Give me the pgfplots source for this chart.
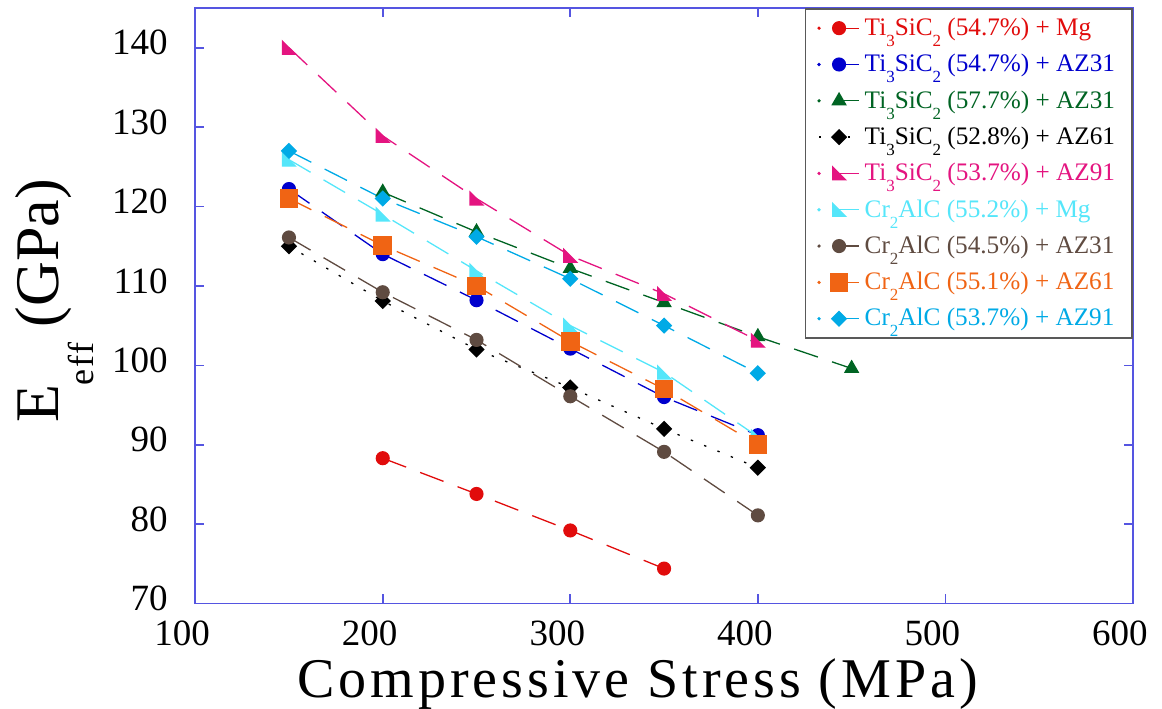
\documentclass[border=0pt]{standalone}
\usepackage{fontspec}
\setmainfont{Liberation Serif}
\usepackage{pgfplots}
\pgfplotsset{compat=1.18}

\definecolor{axisblue}{RGB}{85,85,225}
\definecolor{cRed}{RGB}{225,12,12}
\definecolor{cBlue}{RGB}{0,0,205}
\definecolor{cGreen}{RGB}{0,100,35}
\definecolor{cPink}{RGB}{228,20,128}
\definecolor{cCyan}{RGB}{85,230,250}
\definecolor{cBrown}{RGB}{95,75,65}
\definecolor{cOrange}{RGB}{240,100,20}
\definecolor{cLBlue}{RGB}{0,170,230}

\pgfdeclareplotmark{rtri*}{%
  \pgfpathmoveto{\pgfqpoint{-\pgfplotmarksize}{\pgfplotmarksize}}%
  \pgfpathlineto{\pgfqpoint{-\pgfplotmarksize}{-\pgfplotmarksize}}%
  \pgfpathlineto{\pgfqpoint{\pgfplotmarksize}{-\pgfplotmarksize}}%
  \pgfpathclose
  \pgfusepathqfillstroke}
\pgfdeclareplotmark{sqdiamond*}{%
  \pgfpathmoveto{\pgfqpoint{0pt}{\pgfplotmarksize}}%
  \pgfpathlineto{\pgfqpoint{\pgfplotmarksize}{0pt}}%
  \pgfpathlineto{\pgfqpoint{0pt}{-\pgfplotmarksize}}%
  \pgfpathlineto{\pgfqpoint{-\pgfplotmarksize}{0pt}}%
  \pgfpathclose
  \pgfusepathqfillstroke}

\pgfplotsset{
  mylegend/.style={legend image code/.code={%
    \fill[##1,solid] (0pt,0pt) circle (0.45pt);
    \draw[##1,solid,line width=0.6pt] (10pt,0pt) -- (20pt,0pt);
    \draw[##1,solid] plot coordinates {(10pt,0pt)};
  }},
  dotlegend/.style={legend image code/.code={%
    \draw[##1] (0pt,0pt) -- (20pt,0pt);
    \draw[##1,solid] plot coordinates {(10pt,0pt)};
  }},
}

\newcommand{\lsub}[1]{\raisebox{-5.5pt}{\fontsize{8.5}{9}\selectfont #1}}

\pgfplotstableread{
x y
200 88.3
250 83.8
300 79.2
350 74.4
}\tRed
\pgfplotstableread{
x y
150 122.2
200 114.0
250 108.2
300 102.1
350 96.0
400 91.2
}\tBlue
\pgfplotstableread{
x y
200 121.8
250 116.8
300 112.2
350 107.9
400 103.6
450 99.6
}\tGreen
\pgfplotstableread{
x y
150 115.0
200 108.1
250 102.0
300 97.2
350 92.0
400 87.1
}\tBlack
\pgfplotstableread{
x y
150 140.0
200 128.9
250 121.0
300 113.8
350 109.0
400 103.1
}\tPink
\pgfplotstableread{
x y
150 125.9
200 119.0
250 111.9
300 105.0
350 99.1
400 91.0
}\tCyan
\pgfplotstableread{
x y
150 116.1
200 109.2
250 103.2
300 96.1
350 89.1
400 81.1
}\tBrown
\pgfplotstableread{
x y
150 121.0
200 115.1
250 110.0
300 103.0
350 97.0
400 90.0
}\tOrange
\pgfplotstableread{
x y
150 127.0
200 121.0
250 116.2
300 110.9
350 105.0
400 99.0
}\tLBlue

\begin{document}
\begin{tikzpicture}
\begin{axis}[name=ax,
  scale only axis, width=468.5pt, height=297.5pt,
  xmin=100, xmax=600, ymin=70, ymax=145,
  xtick={100,200,...,600}, ytick={70,80,...,140},
  axis line style={draw=axisblue, line width=0.8pt},
  every tick/.style={draw=axisblue, line width=0.8pt},
  major tick length=4.5pt,
  tick align=inside,
  /pgf/number format/assume math mode=true,
  ticklabel style={font=\fontsize{18.5}{20}\selectfont},
  xticklabel style={anchor=base, inner sep=0pt, yshift=-21pt, xshift=-6.5pt},
  yticklabel style={anchor=east, inner sep=0pt, xshift=-13.5pt, yshift=2.5pt},
  xlabel={Compressive Stress (MPa)},
  xlabel style={at={(axis description cs:0.472,0)}, anchor=base, inner sep=0pt, yshift=-47pt,
    font=\fontsize{28}{30}\selectfont\addfontfeature{LetterSpace=7}},
  ylabel={E\raisebox{-17.5pt}{\fontsize{18}{18}\selectfont\addfontfeature{LetterSpace=4}eff} (GPa)},
  ylabel style={at={(axis description cs:-0.1462,0.508)}, anchor=base, inner sep=0pt,
    font=\fontsize{31}{33}\selectfont},
  legend style={at={(rel axis cs:1,1)}, anchor=north east, draw=black!65, line width=0.9pt,
    fill=white, font=\fontsize{12.6}{13.5}\selectfont, inner xsep=6pt, inner ysep=3.5pt,
    row sep=5.9pt, nodes={inner xsep=2.5pt, inner ysep=1pt}},
  legend cell align=left,
  mylegend,
  every axis plot/.append style={line width=0.65pt, dash pattern=on 12.5pt off 7.5pt},
]
\addplot[cRed, mark=*, mark size=3.2pt, mark options={solid}] table {\tRed};
\addlegendentry{\textcolor{cRed}{Ti\lsub{3}SiC\lsub{2} (54.7\%) + Mg}}
\addplot[cBlue, mark=*, mark size=3.2pt, mark options={solid}] table {\tBlue};
\addlegendentry{\textcolor{cBlue}{Ti\lsub{3}SiC\lsub{2} (54.7\%) + AZ31}}
\addplot[cGreen, mark=triangle*, mark size=3.8pt, mark options={solid}] table {\tGreen};
\addlegendentry{\textcolor{cGreen}{Ti\lsub{3}SiC\lsub{2} (57.7\%) + AZ31}}
\addplot[black, mark=sqdiamond*, mark size=3.6pt, mark options={solid},
  dash pattern=on 1.2pt off 6pt, dotlegend] table {\tBlack};
\addlegendentry{\textcolor{black}{Ti\lsub{3}SiC\lsub{2} (52.8\%) + AZ61}}
\addplot[cPink, mark=rtri*, mark size=3.2pt, mark options={solid}] table {\tPink};
\addlegendentry{\textcolor{cPink}{Ti\lsub{3}SiC\lsub{2} (53.7\%) + AZ91}}
\addplot[cCyan, mark=rtri*, mark size=3.2pt, mark options={solid}] table {\tCyan};
\addlegendentry{\textcolor{cCyan}{Cr\lsub{2}AlC (55.2\%) + Mg}}
\addplot[cBrown, mark=*, mark size=3.2pt, mark options={solid}] table {\tBrown};
\addlegendentry{\textcolor{cBrown}{Cr\lsub{2}AlC (54.5\%) + AZ31}}
\addplot[cOrange, mark=square*, mark size=4.3pt, mark options={solid}] table {\tOrange};
\addlegendentry{\textcolor{cOrange}{Cr\lsub{2}AlC (55.1\%) + AZ61}}
\addplot[cLBlue, mark=sqdiamond*, mark size=3.6pt, mark options={solid}] table {\tLBlue};
\addlegendentry{\textcolor{cLBlue}{Cr\lsub{2}AlC (53.7\%) + AZ91}\rule[-15pt]{0pt}{1pt}}
\end{axis}
\pgfresetboundingbox
\path ([shift={(-97.5pt,-52.5pt)}]ax.south west) rectangle ([shift={(14.5pt,4pt)}]ax.north east);
\end{tikzpicture}
\end{document}
